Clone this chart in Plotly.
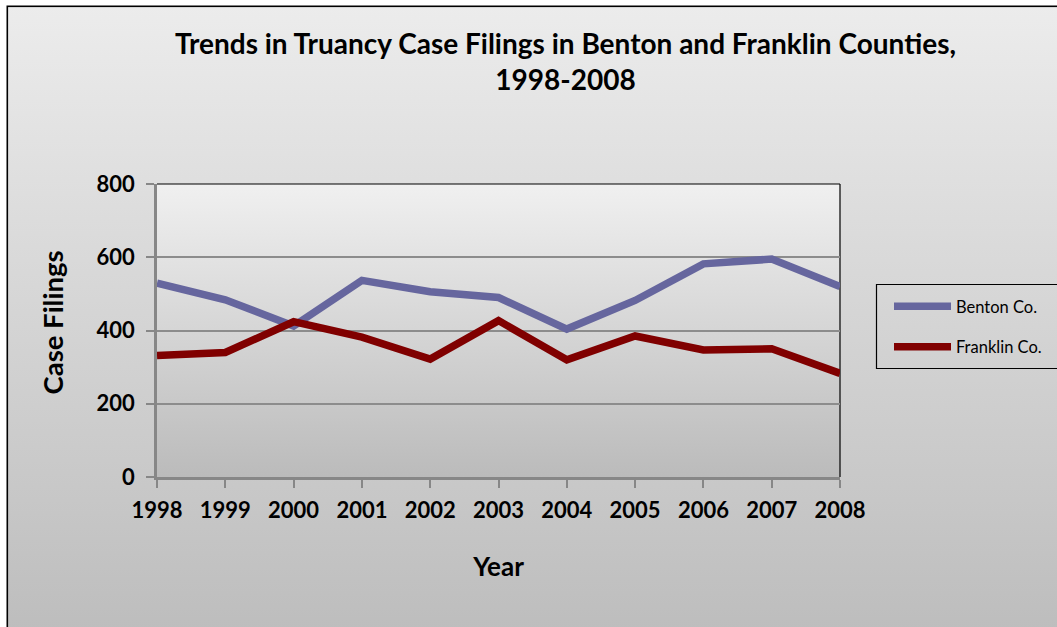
import base64
import plotly.graph_objects as go

years = [1998, 1999, 2000, 2001, 2002, 2003, 2004, 2005, 2006, 2007, 2008]
benton = [529, 484, 412, 537, 506, 490, 404, 482, 582, 595, 520]
franklin = [332, 340, 424, 382, 322, 427, 320, 385, 347, 350, 283]
y_ticks = [0, 200, 400, 600, 800]

W, H = 1057, 627
L, R, T, B = 157, 840, 184, 477
PW, PH = R - L, B - T

FONT = "Lato"


def svg_uri(svg):
    return "data:image/svg+xml;base64," + base64.b64encode(svg.encode()).decode()


def px_x(px):
    return (px - L) / PW


def px_y(py):
    return (B - py) / PH


outer_svg = (
    f'<svg xmlns="http://www.w3.org/2000/svg" width="{W}" height="{H}" viewBox="0 0 {W} {H}" preserveAspectRatio="none">'
    '<defs><linearGradient id="g" x1="0" y1="0" x2="0" y2="1">'
    '<stop offset="0" stop-color="#ececec"/><stop offset="1" stop-color="#bcbcbc"/>'
    '</linearGradient></defs>'
    f'<rect x="0" y="0" width="{W}" height="{H}" fill="#ffffff"/>'
    '<rect x="7.3" y="6.3" width="1070" height="640" fill="url(#g)" stroke="#000000" stroke-width="1.6"/>'
    '</svg>'
)
plot_svg = (
    '<svg xmlns="http://www.w3.org/2000/svg" width="683" height="293" viewBox="0 0 683 293" preserveAspectRatio="none">'
    '<defs><linearGradient id="p" x1="0" y1="0" x2="0" y2="1">'
    '<stop offset="0" stop-color="#f0f0f0"/><stop offset="1" stop-color="#bbbbbb"/>'
    '</linearGradient></defs>'
    '<rect x="0" y="0" width="683" height="293" fill="url(#p)"/>'
    '</svg>'
)

fig = go.Figure()
fig.add_trace(go.Scatter(
    x=years, y=benton, mode="lines", name="Benton Co.",
    line=dict(color="#66669e", width=7.5), legendgroup="a",
))
fig.add_trace(go.Scatter(
    x=years, y=franklin, mode="lines", name="Franklin Co.",
    line=dict(color="#800000", width=7.5), legendgroup="b",
))

fig.update_layout(
    width=W, height=H,
    margin=dict(l=L, r=W - R, t=T, b=H - B, autoexpand=False),
    paper_bgcolor="#ffffff",
    plot_bgcolor="rgba(0,0,0,0)",
    font=dict(family=FONT, color="#000000"),
    title=dict(
        text="Trends in Truancy Case Filings in Benton and Franklin Counties,<br>1998-2008",
        x=565.5 / W, xanchor="center", xref="container",
        y=1 - 53.5 / H, yanchor="middle", yref="container",
        font=dict(family=FONT, size=28, weight="bold", color="#000000"),
    ),
    xaxis=dict(
        range=[1998, 2008], tickvals=years, ticktext=[str(y) for y in years],
        showline=True, linecolor="#878787", linewidth=2.5,
        ticks="outside", ticklen=8, tickwidth=1.5, tickcolor="#878787",
        showgrid=False, zeroline=False,
        tickfont=dict(family=FONT, size=22, weight="bold"),
        ticklabelstandoff=4,
        title=dict(text="Year", standoff=36,
                   font=dict(family=FONT, size=26, weight="bold")),
    ),
    yaxis=dict(
        range=[0, 800], tickvals=y_ticks,
        showline=True, linecolor="#878787", linewidth=2.5,
        ticks="outside", ticklen=8, tickwidth=1.5, tickcolor="#878787",
        showgrid=True, gridcolor="#8c8c8c", gridwidth=1.5, zeroline=False,
        tickfont=dict(family=FONT, size=22, weight="bold"),
        ticklabelstandoff=7,
    ),
    legend=dict(
        x=px_x(889), y=px_y(289), xanchor="left", yanchor="top",
        borderwidth=0, bgcolor="rgba(0,0,0,0)",
        font=dict(family=FONT, size=16.5, color="#000000"),
        tracegroupgap=16, itemwidth=57, traceorder="grouped",
    ),
    annotations=[
        dict(text="Case Filings", textangle=-90, xref="paper", yref="paper",
             x=px_x(52), y=px_y(322.5), xanchor="center", yanchor="middle",
             showarrow=False, font=dict(family=FONT, size=27.5, weight="bold")),
    ],
    images=[
        dict(source=svg_uri(outer_svg), xref="paper", yref="paper",
             x=-L / PW, y=B / PH, sizex=W / PW, sizey=H / PH,
             xanchor="left", yanchor="top", sizing="stretch", layer="below"),
        dict(source=svg_uri(plot_svg), xref="paper", yref="paper",
             x=0, y=1, sizex=1, sizey=1,
             xanchor="left", yanchor="top", sizing="stretch", layer="below"),
    ],
    shapes=[
        dict(type="line", xref="paper", yref="paper", x0=0, x1=1, y0=1, y1=1,
             line=dict(color="#000000", width=1.2), layer="below"),
        dict(type="line", xref="paper", yref="paper", x0=1, x1=1, y0=0, y1=1,
             line=dict(color="#000000", width=1.2), layer="below"),
        dict(type="rect", xref="paper", yref="paper",
             x0=px_x(876.5), x1=px_x(1075), y0=px_y(284.5), y1=px_y(368.5),
             line=dict(color="#000000", width=1.2), fillcolor="rgba(0,0,0,0)"),
    ],
)

fig.write_html("out.html")
